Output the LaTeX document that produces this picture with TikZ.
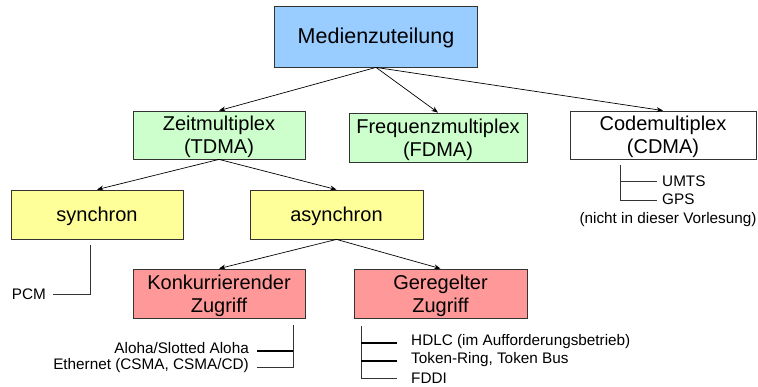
\documentclass[tikz,border=0pt]{standalone}
\usepackage{fontspec}
\setmainfont{Liberation Sans}
\usetikzlibrary{arrows.meta}
\definecolor{cblue}{HTML}{99CCFF}
\definecolor{cgreen}{HTML}{CCFFCC}
\definecolor{cyellow}{HTML}{FFFF99}
\definecolor{cred}{HTML}{FF9999}
\definecolor{cline}{HTML}{333333}
\newcommand{\boxfont}{\fontsize{20}{23}\selectfont}
\newcommand{\bigboxfont}{\fontsize{21.5}{25}\selectfont}
\newcommand{\smallfont}{\fontsize{15.3}{18}\selectfont}
\newcommand{\btext}[1]{\raisebox{-2.5pt}[\height][\depth]{\begin{tabular}{@{}c@{}}#1\end{tabular}}}
\begin{document}
\begin{tikzpicture}[x=1pt,y=-1pt,
  box/.style={draw=cline, line width=0.8pt, minimum width=172pt, minimum height=48pt,
    inner sep=0pt, align=center, font=\boxfont},
  arr/.style={-{Stealth[length=6.5pt,width=5pt]}, line width=0.7pt, draw=black},
  treeline/.style={line width=0.8pt, draw=cline},
  treethick/.style={line width=1.6pt, draw=black},
  small/.style={font=\smallfont, inner sep=0pt}]
\useasboundingbox (0,0) rectangle (758,387);

% boxes
\node[box, fill=cblue, minimum width=203pt, minimum height=61pt, font=\bigboxfont] (med) at (376,36.5) {\btext{Medienzuteilung}};
\node[box, fill=cgreen] (zeit) at (219,135) {\btext{Zeitmultiplex\\(TDMA)}};
\node[box, fill=cgreen, minimum width=178pt, minimum height=49pt] (freq) at (438,137.5) {\btext{Frequenzmultiplex\\(FDMA)}};
\node[box, fill=white, minimum width=186pt] (code) at (663,135) {\btext{Codemultiplex\\(CDMA)}};
\node[box, fill=cyellow, minimum height=49pt] (sync) at (97,214.5) {\btext{synchron}};
\node[box, fill=cyellow, minimum width=173pt, minimum height=49pt] (async) at (336.5,214.5) {\btext{asynchron}};
\node[box, fill=cred, minimum height=49pt] (konk) at (219,293.5) {\btext{Konkurrierender\\Zugriff}};
\node[box, fill=cred, minimum width=173pt, minimum height=49pt] (gereg) at (440.5,293.5) {\btext{Geregelter\\Zugriff}};

% arrows
\draw[arr] (med.south) -- (zeit.north);
\draw[arr] (med.south) -- (freq.north);
\draw[arr] (med.south) -- (code.north);
\draw[arr] (zeit.south) -- (sync.north);
\draw[arr] (zeit.south) -- (async.north);
\draw[arr] (async.south) -- (konk.north);
\draw[arr] (async.south) -- (gereg.north);

% small labels
\node[small, anchor=east] (pcm) at (46,294) {PCM};
\node[small, anchor=east] (aloha) at (249,348) {Aloha/Slotted Aloha};
\node[small, anchor=east] (eth) at (249,366) {Ethernet (CSMA, CSMA/CD)};
\node[small, anchor=west] (hdlc) at (411,342) {HDLC (im Aufforderungsbetrieb)};
\node[small, anchor=west] (token) at (411,360) {Token-Ring, Token Bus};
\node[small, anchor=west] (fddi) at (411,378) {FDDI};
\node[small, anchor=west] (umts) at (662,181) {UMTS};
\node[small, anchor=west] (gps) at (662,199) {GPS};
\node[small] (nicht) at (668,220) {(nicht in dieser Vorlesung)};

% tree coordinates
\coordinate (pcmtop) at (90,245);
\coordinate (pcmend) at (53,294);
\coordinate (kvtop) at (293,325);
\coordinate (kv1) at (293,351);
\coordinate (kv2) at (293,367);
\coordinate (ka1) at (257,351);
\coordinate (ka2) at (257,367);
\coordinate (gvtop) at (361,326);
\coordinate (gv1) at (361,343);
\coordinate (gv2) at (361,361);
\coordinate (gv3) at (361,378);
\coordinate (ga1) at (397,343);
\coordinate (ga2) at (397,361);
\coordinate (ga3) at (397,378);
\coordinate (cvtop) at (620,165);
\coordinate (cv1) at (620,181);
\coordinate (cv2) at (620,200);
\coordinate (ca1) at (657,181);
\coordinate (ca2) at (657,200);

% tree lines
\draw[treeline] (pcmtop) |- (pcmend);
\draw[treeline] (kvtop) -- (kv2) -- (ka2);
\draw[treethick] (kv1) -- (ka1);
\draw[treeline] (gvtop) -- (gv3) -- (ga3);
\draw[treethick] (gv1) -- (ga1);
\draw[treethick] (gv2) -- (ga2);
\draw[treeline] (cvtop) -- (cv2) -- (ca2);
\draw[treeline] (cv1) -- (ca1);
\end{tikzpicture}
\end{document}
